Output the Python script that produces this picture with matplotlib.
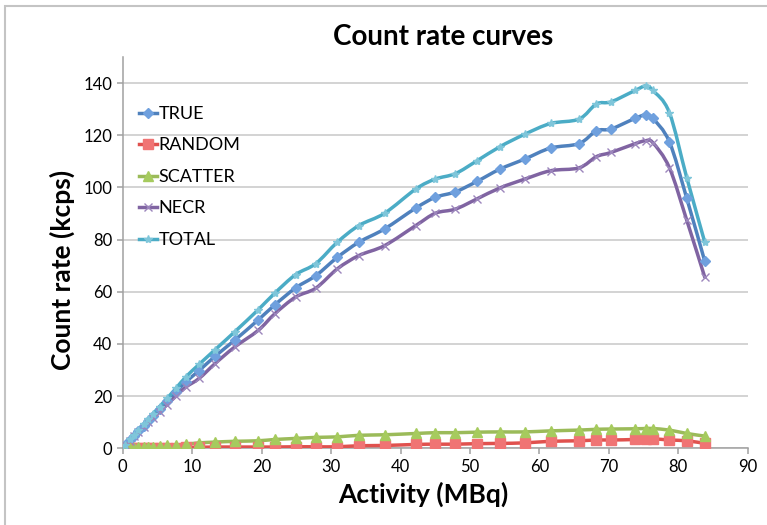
import numpy as np
import matplotlib
matplotlib.use("Agg")
import matplotlib.pyplot as plt
from matplotlib.path import Path
from matplotlib.patches import PathPatch, Rectangle
from matplotlib.lines import Line2D

plt.rcParams['font.family'] = ['Lato', 'DejaVu Sans']

# data
activity = [0.3, 1.0, 1.6, 2.2, 3.0, 3.7, 4.3, 5.3, 6.4, 7.7, 9.1,
            11.0, 13.3, 16.1, 19.5, 21.9, 24.9, 27.8, 30.9, 34.0, 37.7,
            42.2, 45.0, 47.9, 51.0, 54.3, 57.9, 61.6, 65.7, 68.2, 70.3,
            73.8, 75.3, 76.3, 78.7, 81.2, 83.8]
true_rate = [1.3, 3.2, 4.9, 6.5, 8.7, 10.6, 12.3, 15.0, 18.0, 21.6, 25.5,
             29.8, 35.3, 41.4, 49.2, 55.0, 61.5, 66.2, 73.2, 79.0, 84.1,
             92.1, 96.2, 98.3, 102.3, 107.0, 110.9, 115.1, 116.8, 121.7, 122.4,
             126.5, 127.8, 126.5, 117.5, 95.9, 71.7]
random_rate = [0.0, 0.0, 0.0, 0.0, 0.1, 0.1, 0.1, 0.1, 0.2, 0.2, 0.4,
               0.4, 0.5, 0.5, 0.5, 0.5, 0.6, 0.6, 0.6, 1.0, 1.1,
               1.5, 1.6, 1.6, 1.8, 1.9, 2.1, 2.7, 2.9, 3.2, 3.2,
               3.4, 3.7, 3.7, 3.2, 2.9, 1.9]
scatter_rate = [0.1, 0.2, 0.3, 0.4, 0.5, 0.6, 0.7, 0.9, 1.1, 1.3, 1.6,
                2.1, 2.4, 2.7, 2.9, 3.4, 3.8, 4.2, 4.4, 5.0, 5.2,
                5.7, 6.0, 6.0, 6.2, 6.3, 6.3, 6.7, 7.0, 7.3, 7.4,
                7.5, 7.6, 7.6, 7.0, 5.7, 4.7]
necr_rate = [1.2, 3.0, 4.6, 6.1, 8.2, 10.0, 11.5, 14.0, 16.8, 20.1, 23.5,
             26.8, 32.5, 38.8, 45.2, 51.6, 58.0, 61.4, 68.8, 73.9, 77.7,
             85.4, 90.1, 91.7, 95.6, 99.8, 103.2, 106.4, 107.5, 111.8, 113.4,
             116.8, 117.9, 117.2, 107.6, 87.5, 65.6]
total_rate = [1.4, 3.4, 5.2, 6.9, 9.3, 11.3, 13.1, 16.0, 19.2, 23.1, 27.4,
              32.2, 37.8, 44.6, 53.1, 59.5, 66.6, 70.8, 79.0, 85.4, 90.1,
              99.4, 103.2, 105.3, 110.2, 115.6, 120.4, 124.5, 126.2, 132.0, 132.8,
              137.2, 138.9, 137.2, 128.7, 103.8, 79.0]

series = [
    ("TRUE", true_rate, '#4F81BD', '#6FA0DE', 'D', 5.5),
    ("RANDOM", random_rate, '#E0514E', '#F07474', 's', 6.5),
    ("SCATTER", scatter_rate, '#9BBB59', '#A6CB5E', '^', 6.5),
    ("NECR", necr_rate, '#8064A2', '#9C86BC', 'x', 6),
    ("TOTAL", total_rate, '#4BACC6', '#7FC6DA', '*', 6),
]


def smooth_path(x, y):
    # Catmull-Rom style bezier, like Excel's smoothed lines
    pts = np.column_stack([x, y]).astype(float)
    n = len(pts)
    verts = [pts[0]]
    codes = [Path.MOVETO]
    for i in range(n - 1):
        p0 = pts[max(i - 1, 0)]
        p1 = pts[i]
        p2 = pts[i + 1]
        p3 = pts[min(i + 2, n - 1)]
        verts += [p1 + (p2 - p0) / 6, p2 - (p3 - p1) / 6, p2]
        codes += [Path.CURVE4] * 3
    return Path(verts, codes)


fig = plt.figure(figsize=(7.67, 5.25), dpi=100)
ax = fig.add_axes([0.16, 0.146, 0.815, 0.7455])

handles = []
for name, vals, lc, mc, mk, ms in series:
    ax.add_patch(PathPatch(smooth_path(activity, vals), fill=False, edgecolor=lc,
                           lw=2.5, capstyle='round', joinstyle='round', zorder=3))
    ax.plot(activity, vals, ls='none', marker=mk, ms=ms, color=mc, mec=mc,
            mew=1.0, zorder=4)
    handles.append(Line2D([], [], color=lc, lw=2.5, marker=mk, ms=ms, mfc=mc, mec=mc,
                          label=name))

ax.set_xlim(0, 90)
ax.set_ylim(0, 150)
ax.set_xticks(np.arange(0, 91, 10))
ax.set_yticks(np.arange(0, 141, 20))
ax.grid(axis='y', color='#C8C8C8', lw=1.1)
ax.set_axisbelow(True)
for s in ['top', 'right']:
    ax.spines[s].set_visible(False)
for s in ['left', 'bottom']:
    ax.spines[s].set_color('#A0A0A0')
    ax.spines[s].set_linewidth(1.1)
ax.tick_params(colors='#A0A0A0', labelcolor='black', labelsize=12, length=4, width=1.1)

fig.text(423 / 767, 1 - 494 / 525, 'Activity (MBq)', ha='center', va='center',
         fontsize=19, fontweight='bold')
fig.text(62 / 767, 1 - 270 / 525, 'Count rate (kcps)', ha='center', va='center',
         rotation=90, fontsize=19, fontweight='bold')
fig.text(443 / 767, 1 - 37 / 525, 'Count rate curves', ha='center', va='center',
         fontsize=20, fontweight='bold')

ax.legend(handles=handles, loc='upper left', bbox_to_anchor=(0.026, 0.875),
          frameon=False, fontsize=13, handlelength=1.0, handletextpad=0.1,
          labelspacing=0.86, borderpad=0, borderaxespad=0)

fig.patches.append(Rectangle((5 / 767, -0.1), 1.2, 1.0886, transform=fig.transFigure,
                             fill=False, ec='#C4C4C4', lw=1.5))

fig.savefig('out.png', dpi=100)
